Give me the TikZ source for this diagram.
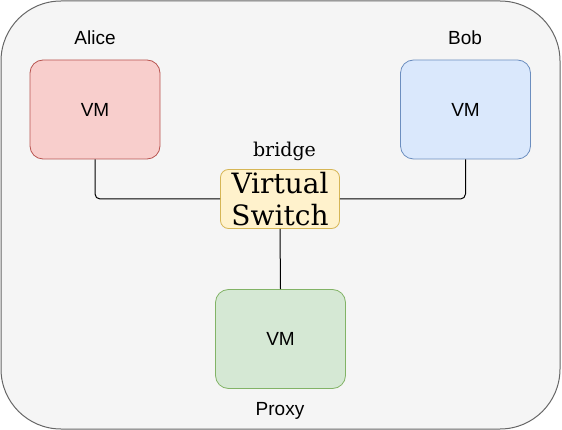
\documentclass[tikz,border=0pt]{standalone}
\usepackage{fontspec}
\setmainfont{Liberation Sans}
\newfontfamily\dvserif{DejaVu Serif}
\definecolor{outerfill}{HTML}{F5F5F5}
\definecolor{outerdraw}{HTML}{666666}
\definecolor{redfill}{HTML}{F8CECC}
\definecolor{reddraw}{HTML}{B85450}
\definecolor{bluefill}{HTML}{DAE8FC}
\definecolor{bluedraw}{HTML}{6C8EBF}
\definecolor{greenfill}{HTML}{D5E8D4}
\definecolor{greendraw}{HTML}{82B366}
\definecolor{yelfill}{HTML}{FFF2CC}
\definecolor{yeldraw}{HTML}{D6B656}
\tikzset{
  vmbox/.style={rectangle, rounded corners=13pt, minimum width=130pt, minimum height=99pt, inner sep=0pt, line width=0.8pt, font=\fontsize{19}{23}\selectfont},
  lbl/.style={anchor=base, inner sep=0pt, font=\fontsize{19}{23}\selectfont},
  link/.style={draw=black, line width=1pt, rounded corners=5pt}
}
\begin{document}
\begin{tikzpicture}[x=1pt,y=-1pt]
\useasboundingbox (0,0) rectangle (562,430);
\path[fill=outerfill, draw=outerdraw, line width=1pt, rounded corners=60pt] (1,1) rectangle (560,429);
\node[vmbox, fill=redfill, draw=reddraw] (alice) at (95,109.5) {VM};
\node[vmbox, fill=bluefill, draw=bluedraw] (bob) at (465.5,109.5) {VM};
\node[vmbox, fill=greenfill, draw=greendraw] (proxy) at (280.5,339) {VM};
\node[rectangle, rounded corners=8pt, fill=yelfill, draw=yeldraw, line width=0.8pt, minimum width=119pt, minimum height=59pt, inner sep=0pt, align=center, font=\dvserif\fontsize{28}{32.5}\selectfont] (switch) at (280,199) {Virtual\\Switch};
\node[lbl] (alicelbl) at (95,45) {Alice};
\node[lbl] (boblbl) at (465,45) {Bob};
\node[lbl] (proxylbl) at (280,415) {Proxy};
\node[lbl, font=\dvserif\fontsize{19}{23}\selectfont] (bridgelbl) at (284.5,157) {bridge};
\draw[link] (alice.south) |- (switch.west);
\draw[link] (bob.south) |- (switch.east);
\draw[link] (switch.south) -- (proxy.north);
\end{tikzpicture}
\end{document}
